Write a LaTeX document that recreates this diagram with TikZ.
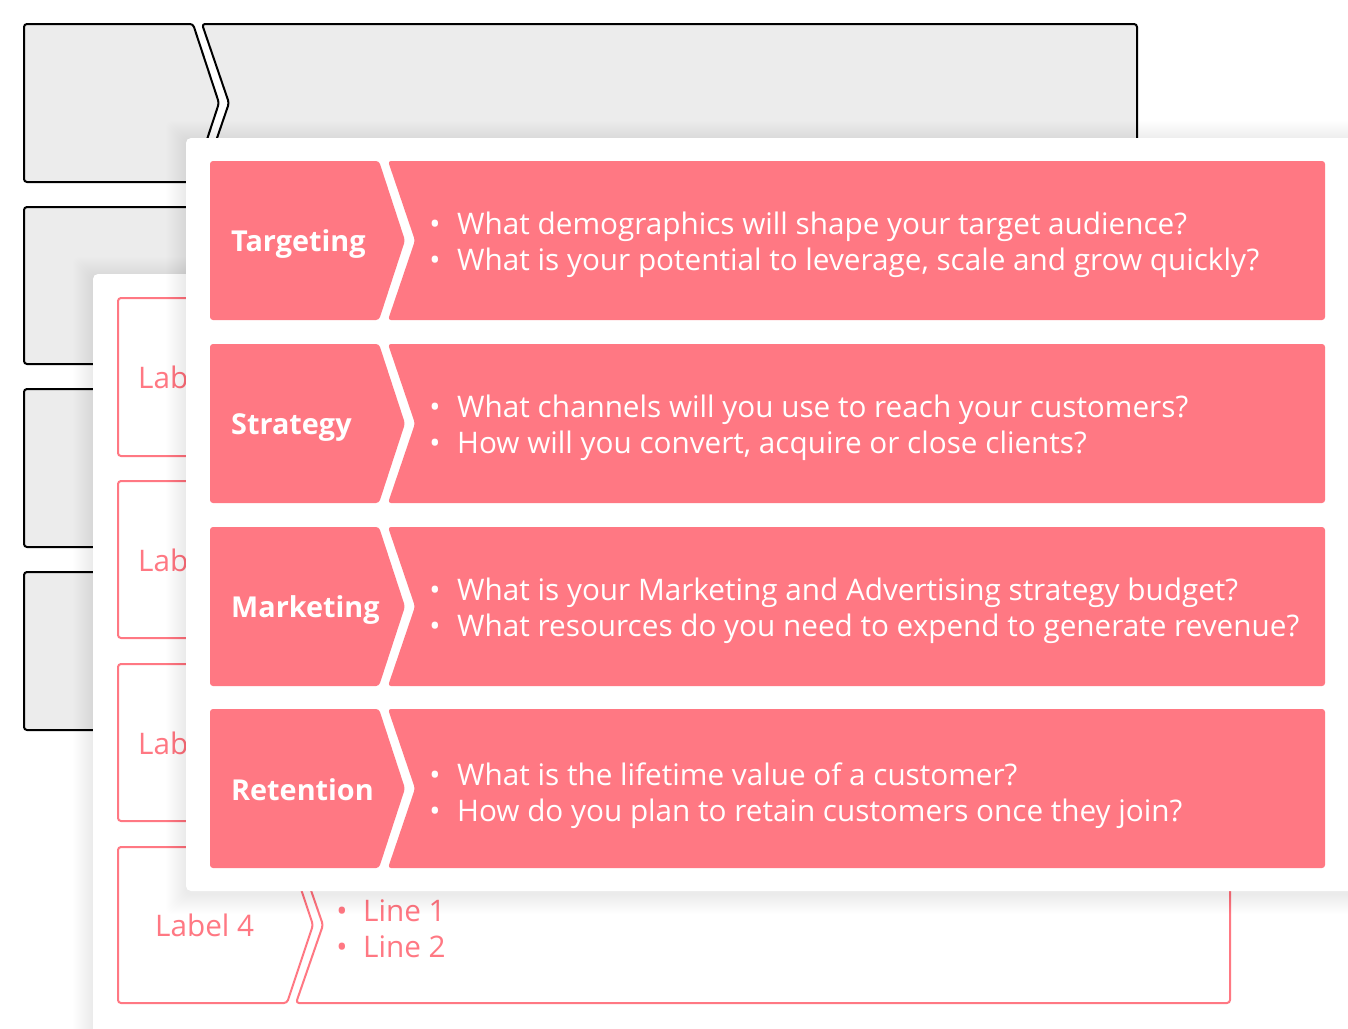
\documentclass[tikz,border=0pt]{standalone}
\usepackage{fontspec}
\setmainfont{Open Sans}
\definecolor{mypink}{RGB}{255,120,131}
\definecolor{backgray}{RGB}{236,236,236}
\newcommand\chevpair[6]{% #1 x0, #2 top, #3 mid, #4 bottom, #5 right, #6 style
  \path[#6] (#1+169,#2) -- (#1+195,#3) -- (#1+169,#4) -- (#1,#4) -- (#1,#2) -- cycle;
  \path[#6] (#1+178,#2) -- (#1+205,#3) -- (#1+178,#4) -- (#5,#4) -- (#5,#2) -- cycle;}
\newcommand\softshadow[5]{%
  \foreach \i in {1,...,20}{\fill[black,opacity=#5,rounded corners=6pt] (#1-\i,#2-\i+3) rectangle (#3+\i,#4+\i+3);}}
\begin{document}
\begin{tikzpicture}[x=1pt,y=-1pt,
  backbox/.style={draw=black,line width=2pt,fill=backgray,rounded corners=3pt,line join=round},
  midbox/.style={draw=mypink,line width=2pt,fill=white,rounded corners=3pt,line join=round},
  frontbox/.style={fill=mypink,rounded corners=3pt},
  card/.style={fill=white,rounded corners=5pt},
  flabel/.style={anchor=base west,inner sep=0pt,text=white,font=\fontsize{28.8}{35}\selectfont\bfseries},
  ftext/.style={anchor=base west,inner sep=0pt,text=white,font=\fontsize{29.7}{36}\selectfont},
  fbullet/.style={anchor=base,inner sep=0pt,text=white,font=\fontsize{29.7}{36}\selectfont},
  mlabel/.style={anchor=base west,inner sep=0pt,text=mypink,font=\fontsize{29.7}{36}\selectfont},
  mtext/.style={anchor=base west,inner sep=0pt,text=mypink,font=\fontsize{29.7}{36}\selectfont},
  mbullet/.style={anchor=base,inner sep=0pt,text=mypink,font=\fontsize{29.7}{36}\selectfont}]
\useasboundingbox (0,0) rectangle (1348,1028);
\fill[white] (0,0) rectangle (1348,1028);
% back layer
\chevpair{24}{24}{103}{182}{1137}{backbox}
\chevpair{24}{207}{285.5}{364}{1137}{backbox}
\chevpair{24}{389}{468}{547}{1137}{backbox}
\chevpair{24}{572}{651}{730}{1137}{backbox}
% middle card
\softshadow{93}{274}{1400}{1100}{0.003}
\fill[card] (93,274) rectangle (1400,1100);
\chevpair{118}{298}{377}{456}{1230}{midbox}
\chevpair{118}{481}{559.5}{638}{1230}{midbox}
\chevpair{118}{664}{742.5}{821}{1230}{midbox}
\chevpair{118}{847}{925}{1003}{1230}{midbox}
\node[mlabel] (ml1) at (138,388) {Label 1};
\node[mlabel] (ml2) at (138,571) {Label 2};
\node[mlabel] (ml3) at (138,754) {Label 3};
\node[mlabel] (ml4) at (155,936) {Label 4};
\node[mbullet] (mb4a) at (342,921) {•};
\node[mtext] (mt4a) at (363,921) {Line 1};
\node[mbullet] (mb4b) at (342,957) {•};
\node[mtext] (mt4b) at (363,957) {Line 2};
% front card
\softshadow{186}{138}{1400}{891}{0.005}
\fill[card] (186,138) rectangle (1400,891);
\chevpair{210}{161}{240.5}{320}{1325}{frontbox}
\chevpair{210}{344}{423.5}{503}{1325}{frontbox}
\chevpair{210}{527}{606.5}{686}{1325}{frontbox}
\chevpair{210}{709}{788.5}{868}{1325}{frontbox}
\node[flabel] (fl1) at (231,251) {Targeting};
\node[flabel] (fl2) at (231,434) {Strategy};
\node[flabel] (fl3) at (231,617) {Marketing};
\node[flabel] (fl4) at (231,800) {Retention};
\node[fbullet] (fb1a) at (435,234) {•};
\node[ftext] (ft1a) at (457,234) {What demographics will shape your target audience?};
\node[fbullet] (fb1b) at (435,270) {•};
\node[ftext] (ft1b) at (457,270) {What is your potential to leverage, scale and grow quickly?};
\node[fbullet] (fb2a) at (435,417) {•};
\node[ftext] (ft2a) at (457,417) {What channels will you use to reach your customers?};
\node[fbullet] (fb2b) at (435,453) {•};
\node[ftext] (ft2b) at (457,453) {How will you convert, acquire or close clients?};
\node[fbullet] (fb3a) at (435,600) {•};
\node[ftext] (ft3a) at (457,600) {What is your Marketing and Advertising strategy budget?};
\node[fbullet] (fb3b) at (435,636) {•};
\node[ftext] (ft3b) at (457,636) {What resources do you need to expend to generate revenue?};
\node[fbullet] (fb4a) at (435,785) {•};
\node[ftext] (ft4a) at (457,785) {What is the lifetime value of a customer?};
\node[fbullet] (fb4b) at (435,821) {•};
\node[ftext] (ft4b) at (457,821) {How do you plan to retain customers once they join?};
\end{tikzpicture}
\end{document}
